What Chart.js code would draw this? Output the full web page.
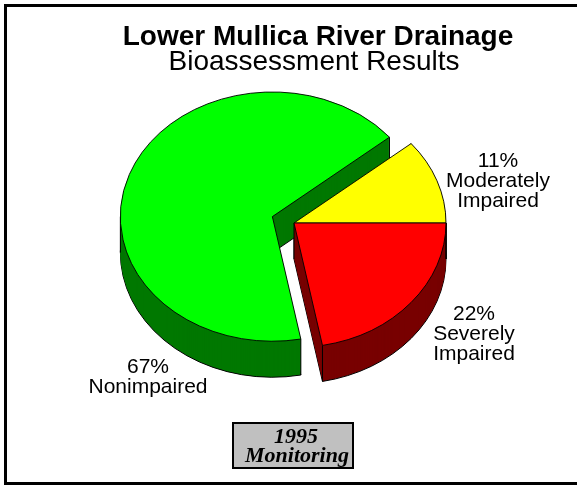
<!DOCTYPE html>
<html>
<head>
<meta charset="utf-8">
<script src="https://cdn.jsdelivr.net/npm/chart.js@4.4.1/dist/chart.umd.min.js"></script>
<style>
  body { margin: 0; overflow: hidden; background: #fff; }
  #frame { position: absolute; left: 4px; top: 4px; width: 600px; height: 475px; border: 3px solid #000; }
  #pie { position: absolute; left: 0; top: 0; }
</style>
</head>
<body>
<div id="frame"></div>
<canvas id="pie" width="577" height="485"></canvas>
<script>
// bioassessment results, lower Mullica
const categories = ['Nonimpaired', 'Moderately Impaired', 'Severely Impaired'];
const percents = [67, 11, 22];
const titleText = 'Lower Mullica River Drainage';
const subtitleText = 'Bioassessment Results';
const noteLines = ['1995', 'Monitoring'];

const faceColors = ['#00ff00', '#ffff00', '#ff0000'];
const sideColors = ['#007800', '#787800', '#780000'];
const explode = [23, 0, 0];
const tilt = 0.82;   // squash of the pie top
const depth = 36;    // height of the pie side
// baseline of first label line, relative to pie centre
const labelAt = [[-146, 150], [204, -56], [180, 97]];

const pie3d = {
    id: 'pie3d',
    beforeDatasetsDraw(chart) {
        const ctx = chart.ctx;
        const arcs = chart.getDatasetMeta(0).data;
        const cy0 = arcs[0].y;
        const shift = arcs.map((a, i) => {
            const mid = (a.startAngle + a.endAngle) / 2;
            return [Math.cos(mid) * explode[i], Math.sin(mid) * explode[i]];
        });
        const wedge = (a, s, dz) => {
            ctx.save();
            ctx.translate(0, cy0 + dz);
            ctx.scale(1, tilt);
            ctx.translate(0, -cy0);
            ctx.beginPath();
            ctx.moveTo(a.x + s[0], a.y + s[1]);
            ctx.arc(a.x + s[0], a.y + s[1], a.outerRadius, a.startAngle, a.endAngle);
            ctx.closePath();
            ctx.restore();
        };

        // sides
        ctx.save();
        ctx.lineWidth = 1;
        ctx.strokeStyle = '#000';
        [1, 0, 2].forEach(i => {
            const a = arcs[i];
            ctx.fillStyle = sideColors[i];
            wedge(a, shift[i], depth);
            ctx.fill();
            ctx.stroke();
            for (let d = depth - 1; d > 0; d--) {
                wedge(a, shift[i], d);
                ctx.fill();
            }
            const cx = a.x + shift[i][0], cy = a.y + shift[i][1], r = a.outerRadius;
            const pts = [[cx, cy],
                [cx + r * Math.cos(a.startAngle), cy + r * Math.sin(a.startAngle)],
                [cx + r * Math.cos(a.endAngle), cy + r * Math.sin(a.endAngle)]];
            for (let m = Math.ceil(a.startAngle / Math.PI); m * Math.PI <= a.endAngle; m++) {
                pts.push([cx + r * Math.cos(m * Math.PI), cy]);
            }
            ctx.beginPath();
            pts.forEach(p => {
                const y = cy0 + (p[1] - cy0) * tilt;
                ctx.moveTo(p[0], y);
                ctx.lineTo(p[0], y + depth);
            });
            ctx.stroke();
        });
        ctx.restore();

        // tops
        ctx.save();
        ctx.translate(0, cy0);
        ctx.scale(1, tilt);
        ctx.translate(0, -cy0);
        arcs.forEach((a, i) => {
            ctx.save();
            ctx.translate(shift[i][0], shift[i][1]);
            a.draw(ctx);
            ctx.restore();
        });
        ctx.restore();
        return false;
    }
};

const texts = {
    id: 'texts',
    afterDraw(chart) {
        const ctx = chart.ctx;
        const arcs = chart.getDatasetMeta(0).data;
        ctx.save();
        ctx.fillStyle = '#000';
        ctx.textAlign = 'center';
        ctx.textBaseline = 'alphabetic';

        ctx.font = 'bold 28px "Liberation Sans", Arial, sans-serif';
        ctx.fillText(titleText, 318, 45);
        ctx.font = '28px "Liberation Sans", Arial, sans-serif';
        ctx.fillText(subtitleText, 314, 70);

        ctx.font = '21px "Liberation Sans", Arial, sans-serif';
        arcs.forEach((a, i) => {
            const lines = [percents[i] + '%'].concat(categories[i].split(' '));
            lines.forEach((t, k) => {
                ctx.fillText(t, a.x + labelAt[i][0], a.y + labelAt[i][1] + k * 20);
            });
        });

        // 1995 monitoring box
        ctx.fillStyle = '#c0c0c0';
        ctx.fillRect(233, 423, 120, 45);
        ctx.lineWidth = 2;
        ctx.strokeStyle = '#000';
        ctx.strokeRect(233, 423, 120, 45);
        ctx.fillStyle = '#000';
        ctx.font = 'italic bold 22px "Liberation Serif", "Times New Roman", serif';
        ctx.fillText(noteLines[0], 296, 443);
        ctx.fillText(noteLines[1], 297, 462);
        ctx.restore();
    }
};

const pie_chart = document.getElementById('pie').getContext('2d');
new Chart(pie_chart, {
    type: 'pie',
    data: {
        labels: categories,
        datasets: [{
            data: percents,
            backgroundColor: faceColors,
            borderColor: '#000',
            borderWidth: 1
        }]
    },
    options: {
        responsive: false,
        animation: false,
        events: [],
        rotation: 169.2,
        radius: 152,
        layout: { padding: { left: 134, right: 123, top: 63, bottom: 102 } },
        plugins: {
            legend: { display: false },
            tooltip: { enabled: false }
        }
    },
    plugins: [pie3d, texts]
});
</script>
</body>
</html>
